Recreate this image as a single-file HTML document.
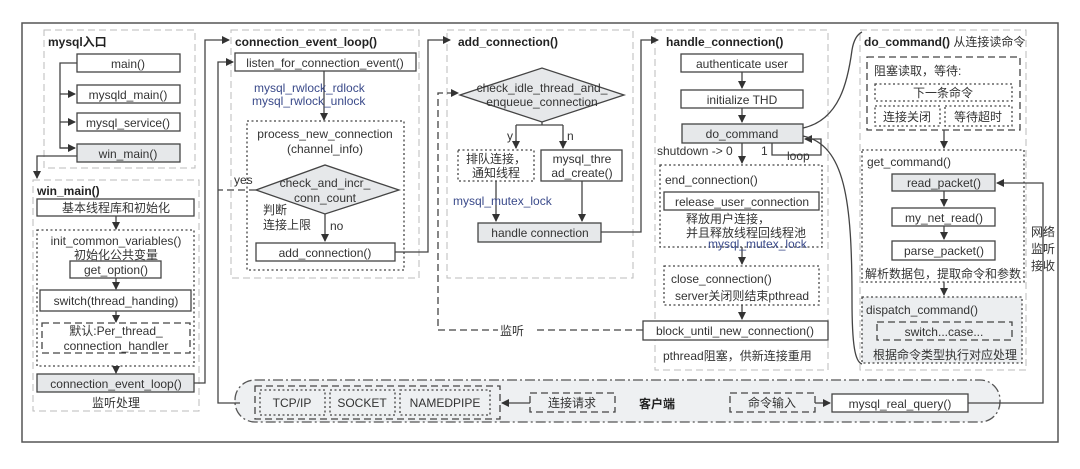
<!DOCTYPE html>
<html><head><meta charset="utf-8"><style>
html,body{margin:0;padding:0;background:#fff}
svg text{font-family:"Liberation Sans","Noto Sans CJK SC",sans-serif;font-size:12px;fill:#333}
.b{font-weight:bold;fill:#222}
.bl{fill:#3a4a8a}
.c{text-anchor:middle}
</style></head><body>
<svg width="1080" height="464" viewBox="0 0 1080 464" xmlns="http://www.w3.org/2000/svg">
<defs><marker id="a" markerWidth="8" markerHeight="8" refX="7" refY="4" orient="auto" markerUnits="userSpaceOnUse"><path d="M0,0 L8,4 L0,8 z" fill="#333"/></marker></defs>
<rect x="0" y="0" width="1080" height="464" fill="#fff"/>
<rect x="22" y="23" width="1036" height="419" fill="none" stroke="#555" stroke-width="1.5"/>
<g fill="none" stroke="#bbb" stroke-dasharray="7,4">
<rect x="44" y="30" width="151" height="138"/>
<rect x="33" y="180" width="166" height="231"/>
<rect x="231" y="30" width="188" height="248"/>
<rect x="447" y="30" width="186" height="248"/>
<rect x="655" y="30" width="173" height="340"/>
<rect x="860" y="30" width="166" height="340"/>
</g>
<!-- client lane -->
<rect x="235" y="380" width="765" height="42" rx="20" fill="#eef0f2" stroke="#555" stroke-dasharray="10,3,2,3" stroke-width="1.3"/>
<g stroke="#444" stroke-width="1.3" fill="#fff">
<rect x="77" y="54" width="103" height="18"/>
<rect x="77" y="85" width="103" height="18"/>
<rect x="77" y="113" width="103" height="18"/>
<rect x="77" y="144" width="103" height="18" fill="#e6e8ea"/>
<rect x="37" y="199" width="157" height="17"/>
<rect x="70" y="261" width="91" height="17"/>
<rect x="40" y="290" width="151" height="21"/>
<rect x="37" y="374" width="157" height="18" fill="#e6e8ea"/>
<rect x="235" y="53" width="181" height="18"/>
<rect x="256" y="243" width="139" height="18"/>
<rect x="541" y="150" width="81" height="31"/>
<rect x="478" y="223" width="123" height="19" fill="#e6e8ea"/>
<rect x="681" y="54" width="122" height="18"/>
<rect x="681" y="90" width="122" height="18"/>
<rect x="682" y="124" width="121" height="19" fill="#e6e8ea"/>
<rect x="664" y="192" width="155" height="18"/>
<rect x="643" y="321" width="185" height="19"/>
<rect x="892" y="174" width="103" height="17" fill="#e6e8ea"/>
<rect x="892" y="208" width="103" height="18"/>
<rect x="892" y="241" width="103" height="19"/>
<rect x="832" y="394" width="136" height="18"/>
</g>
<g fill="none" stroke="#444" stroke-width="1.3" stroke-dasharray="2,2.5">
<rect x="37" y="230" width="157" height="136"/>
<rect x="247" y="121" width="157" height="149"/>
<rect x="458" y="150" width="76" height="31"/>
<rect x="660" y="165" width="162" height="82"/>
<rect x="664" y="266" width="155" height="39"/>
<rect x="875" y="84" width="137" height="17"/>
<rect x="875" y="106" width="65" height="20"/>
<rect x="945" y="106" width="67" height="20"/>
<rect x="862" y="150" width="162" height="132"/>
<rect x="862" y="297" width="160" height="66" fill="#eceef0"/>
<rect x="260" y="390" width="65" height="25"/>
<rect x="330" y="390" width="65" height="25"/>
<rect x="400" y="390" width="90" height="25"/>
</g>
<g fill="none" stroke="#444" stroke-width="1.3" stroke-dasharray="7,4">
<rect x="42" y="323" width="148" height="30"/>
<rect x="867" y="57" width="153" height="73"/>
<rect x="877" y="322" width="135" height="18"/>
<rect x="255" y="386" width="245" height="33"/>
<rect x="530" y="393" width="85" height="19"/>
<rect x="730" y="393" width="85" height="19"/>
</g>
<polygon points="256,190 325,165 399,190 325,214" fill="#e6e8ea" stroke="#444" stroke-width="1.3"/>
<polygon points="460,95 542,68 624,95 542,122" fill="#e6e8ea" stroke="#444" stroke-width="1.3"/>
<!-- connectors -->
<g fill="none" stroke="#444" stroke-width="1.3">
<path d="M77,63 H60 V148 H75" /><path d="M60,94 H75" marker-end="url(#a)"/><path d="M60,122 H75" marker-end="url(#a)"/><path d="M60,148 H75" marker-end="url(#a)"/>
<path d="M77,156 H37 V178" marker-end="url(#a)"/>
<path d="M116,216 V229" marker-end="url(#a)"/>
<path d="M116,278 V289" marker-end="url(#a)"/>
<path d="M116,311 V322" marker-end="url(#a)"/>
<path d="M116,366 V373" marker-end="url(#a)"/>
<path d="M194,383 H205 V40 H229" marker-end="url(#a)"/>
<path d="M240,403 H218 V62 H233" marker-end="url(#a)"/>
<path d="M324,71 V120" marker-end="url(#a)"/>
<path d="M325,214 V241" marker-end="url(#a)"/>
<path d="M395,252 H428 V40 H450" marker-end="url(#a)"/>
<path d="M542,122 V125 M516,125 H563 M516,125 V148 M563,125 V148" />
<path d="M516,140 V148" marker-end="url(#a)"/><path d="M563,140 V148" marker-end="url(#a)"/>
<path d="M496,181 V221" marker-end="url(#a)"/>
<path d="M582,181 V221" marker-end="url(#a)"/>
<path d="M601,232 H641 V40 H658" marker-end="url(#a)"/>
<path d="M742,72 V88" marker-end="url(#a)"/>
<path d="M742,108 V122" marker-end="url(#a)"/>
<path d="M742,143 V163" marker-end="url(#a)"/>
<path d="M772,143 V155 H821 V139 H805" marker-end="url(#a)"/>
<path d="M742,247 V264" marker-end="url(#a)"/>
<path d="M742,305 V319" marker-end="url(#a)"/>
<path d="M944,130 V148" marker-end="url(#a)"/>
<path d="M944,191 V206" marker-end="url(#a)"/>
<path d="M944,226 V239" marker-end="url(#a)"/>
<path d="M944,282 V295" marker-end="url(#a)"/>
<path d="M968,403 H1043 V183 H997" marker-end="url(#a)"/>
<path d="M530,403 H502" marker-end="url(#a)"/>
<path d="M815,403 H830" marker-end="url(#a)"/>
<path d="M803,128 C840,120 848,80 852,50 C854,38 858,34 862,32"/>
<path d="M803,136 C845,145 852,200 852,300 C852,345 855,362 862,364"/>
</g>
<g fill="none" stroke="#444" stroke-width="1.3" stroke-dasharray="7,4">
<path d="M256,190 H218"/>
<path d="M643,330 H438 V93 H458" marker-end="url(#a)"/>
</g>
<rect x="498" y="322" width="36" height="16" fill="#fff"/>
<!-- text -->
<text class="b" x="48" y="46">mysql入口</text>
<text class="c" x="128" y="68">main()</text>
<text class="c" x="128" y="99">mysqld_main()</text>
<text class="c" x="128" y="127">mysql_service()</text>
<text class="c" x="128" y="158">win_main()</text>
<text class="b" x="37" y="195">win_main()</text>
<text class="c" x="116" y="212">基本线程库和初始化</text>
<text class="c" x="116" y="245">init_common_variables()</text>
<text class="c" x="116" y="259">初始化公共变量</text>
<text class="c" x="116" y="274">get_option()</text>
<text class="c" x="116" y="305">switch(thread_handing)</text>
<text class="c" x="116" y="335">默认:Per_thread_</text>
<text class="c" x="116" y="350">connection_handler</text>
<text class="c" x="116" y="388">connection_event_loop()</text>
<text class="c" x="116" y="407">监听处理</text>
<text class="b" x="235" y="46">connection_event_loop()</text>
<text class="c" x="325" y="67">listen_for_connection_event()</text>
<text class="bl" x="254" y="92">mysql_rwlock_rdlock</text>
<text class="bl" x="252" y="105">mysql_rwlock_unlock</text>
<text class="c" x="325" y="138">process_new_connection</text>
<text class="c" x="325" y="153">(channel_info)</text>
<text class="c" x="325" y="187">check_and_incr_</text>
<text class="c" x="325" y="202">conn_count</text>
<text x="234" y="184">yes</text>
<text x="263" y="214">判断</text>
<text x="263" y="229">连接上限</text>
<text x="330" y="230">no</text>
<text class="c" x="325" y="257">add_connection()</text>
<text class="b" x="458" y="46">add_connection()</text>
<text class="c" x="542" y="92">check_idle_thread_and_</text>
<text class="c" x="542" y="106">enqueue_connection</text>
<text x="507" y="140">y</text><text x="567" y="140">n</text>
<text class="c" x="496" y="163">排队连接，</text>
<text class="c" x="496" y="177">通知线程</text>
<text class="c" x="582" y="163">mysql_thre</text>
<text class="c" x="582" y="177">ad_create()</text>
<text class="bl" x="453" y="205">mysql_mutex_lock</text>
<text class="c" x="540" y="237">handle connection</text>
<text x="500" y="335">监听</text>
<text class="b" x="666" y="46">handle_connection()</text>
<text class="c" x="742" y="68">authenticate user</text>
<text class="c" x="742" y="104">initialize THD</text>
<text class="c" x="742" y="138">do_command</text>
<text x="657" y="155">shutdown -&gt; 0</text>
<text x="761" y="155">1</text>
<text x="787" y="160">loop</text>
<text x="665" y="184">end_connection()</text>
<text class="c" x="742" y="206">release_user_connection</text>
<text x="686" y="223">释放用户连接，</text>
<text x="686" y="237">并且释放线程回线程池</text>
<text class="bl" x="708" y="248">mysql_mutex_lock</text>
<text x="671" y="283">close_connection()</text>
<text x="675" y="300">server关闭则结束pthread</text>
<text class="c" x="735" y="335">block_until_new_connection()</text>
<text x="663" y="360">pthread阻塞，供新连接重用</text>
<text x="864" y="46"><tspan class="b">do_command()</tspan> 从连接读命令</text>
<text x="874" y="75">阻塞读取，等待:</text>
<text class="c" x="943" y="97">下一条命令</text>
<text class="c" x="907" y="121">连接关闭</text>
<text class="c" x="978" y="121">等待超时</text>
<text x="867" y="166">get_command()</text>
<text class="c" x="944" y="187">read_packet()</text>
<text class="c" x="944" y="222">my_net_read()</text>
<text class="c" x="944" y="255">parse_packet()</text>
<text x="865" y="278">解析数据包，提取命令和参数</text>
<text x="866" y="314">dispatch_command()</text>
<text class="c" x="944" y="336">switch...case...</text>
<text x="873" y="359">根据命令类型执行对应处理</text>
<text x="1031" y="236">网络</text><text x="1031" y="253">监听</text><text x="1031" y="270">接收</text>
<text class="c" x="292" y="407">TCP/IP</text>
<text class="c" x="362" y="407">SOCKET</text>
<text class="c" x="445" y="407">NAMEDPIPE</text>
<text class="c" x="572" y="407">连接请求</text>
<text class="b c" x="657" y="408">客户端</text>
<text class="c" x="772" y="407">命令输入</text>
<text class="c" x="900" y="408">mysql_real_query()</text>
</svg>
</body></html>
